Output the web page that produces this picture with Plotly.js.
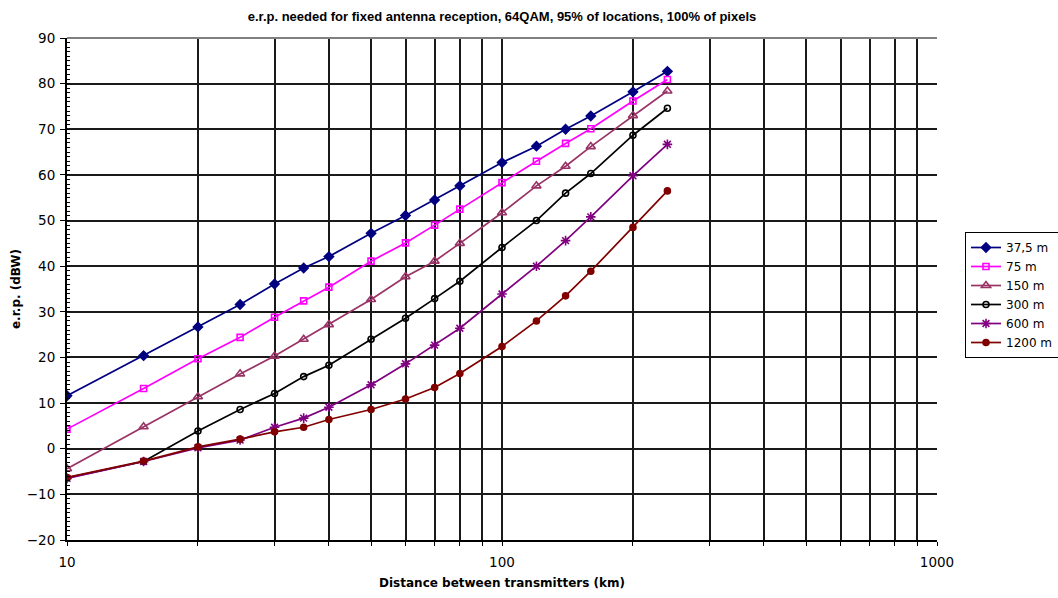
<!DOCTYPE html>
<html>
<head>
<meta charset="utf-8">
<script src="https://cdn.plot.ly/plotly-3.0.1.min.js"></script>
<style>
  html, body { margin: 0; padding: 0; background: #fff; }
  #chart { width: 1058px; height: 598px; }
</style>
</head>
<body>
<div id="chart"></div>
<script>
// Distance between transmitters (km)
const distance = [10, 15, 20, 25, 30, 35, 40, 50, 60, 70, 80, 100, 120, 140, 160, 200, 240];

// e.r.p. (dBW) per effective antenna height
const erp_37_5 = [11.6, 20.4, 26.7, 31.6, 36.1, 39.6, 42.1, 47.2, 51.1, 54.5, 57.6, 62.7, 66.3, 70.0, 72.9, 78.2, 82.7];
const erp_75   = [4.3, 13.2, 19.7, 24.4, 28.8, 32.4, 35.4, 41.1, 45.1, 49.0, 52.5, 58.3, 63.0, 66.9, 70.1, 76.2, 80.9];
const erp_150  = [-4.4, 4.8, 11.4, 16.4, 20.3, 24.0, 27.2, 32.7, 37.7, 41.1, 45.0, 51.7, 57.6, 61.9, 66.2, 73.0, 78.4];
const erp_300  = [-6.4, -2.8, 3.9, 8.6, 12.1, 15.8, 18.3, 24.0, 28.6, 32.9, 36.7, 44.1, 50.0, 56.0, 60.3, 68.7, 74.6];
const erp_600  = [-6.5, -2.8, 0.2, 1.9, 4.7, 6.7, 9.1, 14.0, 18.6, 22.7, 26.4, 33.9, 40.0, 45.6, 50.8, 59.8, 66.7];
const erp_1200 = [-6.3, -2.7, 0.4, 2.1, 3.7, 4.7, 6.4, 8.6, 10.9, 13.4, 16.5, 22.4, 28.0, 33.5, 38.9, 48.5, 56.5];

const seriesNames = ['37,5 m', '75 m', '150 m', '300 m', '600 m', '1200 m'];

// Log-axis grid positions and their labels (only decades are labelled)
const xGridVals = [10, 20, 30, 40, 50, 60, 70, 80, 90, 100, 200, 300, 400, 500, 600, 700, 800, 900, 1000];
const xGridText = ['10', '', '', '', '', '', '', '', '', '100', '', '', '', '', '', '', '', '', '1000'];

const styles = [
  { color: '#000080', symbol: 'diamond',          size: 7 },
  { color: '#FF00FF', symbol: 'square-open',      size: 6 },
  { color: '#993366', symbol: 'triangle-up-open', size: 8 },
  { color: '#000000', symbol: 'circle-open',      size: 6 },
  { color: '#800080', symbol: 'asterisk-open',    size: 8 },
  { color: '#800000', symbol: 'circle',           size: 6 }
];

const values = [erp_37_5, erp_75, erp_150, erp_300, erp_600, erp_1200];

const traces = values.map((ys, i) => ({
  type: 'scatter',
  mode: 'lines+markers',
  name: seriesNames[i],
  x: distance,
  y: ys,
  line: { color: styles[i].color, width: 1.7 },
  marker: {
    symbol: styles[i].symbol,
    size: styles[i].size,
    color: styles[i].color,
    line: { color: styles[i].color, width: 1.6 }
  }
}));

const titleFont = 'Liberation Sans, Arial, sans-serif';
const wideFont = 'DejaVu Sans, Verdana, sans-serif';
const gridColor = '#1a1a1a';

const layout = {
  width: 1058,
  height: 598,
  margin: { l: 67, r: 121, t: 38, b: 58 },
  paper_bgcolor: '#ffffff',
  plot_bgcolor: '#ffffff',
  font: { family: wideFont, size: 13, color: '#000' },
  title: {
    text: '<b>e.r.p. needed for fixed antenna reception, 64QAM, 95% of locations, 100% of pixels</b>',
    font: { family: titleFont, size: 13, color: '#000' },
    x: 0.5, xref: 'paper', xanchor: 'center',
    y: 1 - 16 / 598, yref: 'container', yanchor: 'middle'
  },
  xaxis: {
    type: 'log',
    range: [1, 3],
    tickmode: 'array',
    tickvals: xGridVals,
    ticktext: xGridText,
    ticks: 'outside',
    ticklen: 4,
    tickcolor: '#000',
    ticklabelstandoff: 5,
    showgrid: true,
    gridcolor: gridColor,
    gridwidth: 2,
    showline: true,
    linecolor: '#000',
    linewidth: 2,
    zeroline: false,
    tickfont: { family: wideFont, size: 13.5, color: '#000' },
    title: {
      text: '<b>Distance between transmitters (km)</b>',
      font: { family: wideFont, size: 12, color: '#000' },
      standoff: 9
    }
  },
  yaxis: {
    range: [-20, 90],
    dtick: 10,
    tick0: 0,
    ticks: 'outside',
    ticklen: 5,
    tickcolor: '#000',
    ticklabelstandoff: 2,
    showgrid: true,
    gridcolor: gridColor,
    gridwidth: 2,
    showline: true,
    linecolor: '#000',
    linewidth: 2,
    zeroline: false,
    minor: { dtick: 1, ticks: 'inside', ticklen: 3, tickcolor: '#000', showgrid: false },
    tickfont: { family: wideFont, size: 13.5, color: '#000' },
    title: {
      text: '<b>e.r.p. (dBW)</b>',
      font: { family: wideFont, size: 12, color: '#000' },
      standoff: 4
    }
  },
  legend: {
    xref: 'container',
    yref: 'container',
    x: 965 / 1058,
    xanchor: 'left',
    y: 1 - 232 / 598,
    yanchor: 'top',
    bordercolor: '#000',
    borderwidth: 1,
    bgcolor: '#fff',
    font: { family: wideFont, size: 12, color: '#000' },
    tracegroupgap: 0,
    itemwidth: 30
  },
  shapes: [
    // grey frame across the top of the plotting area
    { type: 'line', xref: 'paper', yref: 'paper', x0: 0, x1: 1, y0: 1, y1: 1,
      line: { color: '#808080', width: 2 } }
  ],
  showlegend: true
};

Plotly.newPlot('chart', traces, layout, { displayModeBar: false, staticPlot: true });
</script>
</body>
</html>
